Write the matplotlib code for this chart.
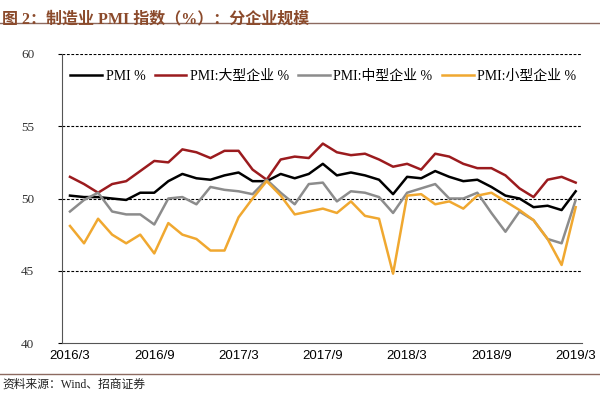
import numpy as np
import matplotlib
matplotlib.use("Agg")
import matplotlib.pyplot as plt
from matplotlib.lines import Line2D

plt.rcParams['font.family'] = ['Liberation Serif', 'Noto Sans CJK SC']

# monthly, 2016/3 .. 2019/3
months = [f"{2016 + (m + 2) // 12}/{(m + 2) % 12 + 1}" for m in range(37)]
tick_labels = ["2016/3", "2016/9", "2017/3", "2017/9", "2018/3", "2018/9", "2019/3"]

pmi_all = [50.2, 50.1, 50.1, 50.0, 49.9, 50.4, 50.4, 51.2, 51.7, 51.4,
           51.3, 51.6, 51.8, 51.2, 51.2, 51.7, 51.4, 51.7, 52.4, 51.6, 51.8, 51.6,
           51.3, 50.3, 51.5, 51.4, 51.9, 51.5, 51.2, 51.3, 50.8, 50.2, 50.0, 49.4,
           49.5, 49.2, 50.5]
pmi_large = [51.5, 51.0, 50.4, 51.0, 51.2, 51.9, 52.6, 52.5, 53.4, 53.2,
             52.8, 53.3, 53.3, 52.0, 51.3, 52.7, 52.9, 52.8, 53.8, 53.2, 53.0, 53.1,
             52.7, 52.2, 52.4, 52.0, 53.1, 52.9, 52.4, 52.1, 52.1, 51.6, 50.7, 50.1,
             51.3, 51.5, 51.1]
pmi_medium = [49.1, 49.9, 50.4, 49.1, 48.9, 48.9, 48.2, 50.0, 50.1, 49.6,
              50.8, 50.6, 50.5, 50.3, 51.3, 50.4, 49.6, 51.0, 51.1, 49.8, 50.5, 50.4,
              50.1, 49.0, 50.4, 50.7, 51.0, 50.0, 50.0, 50.4, 49.0, 47.7, 49.1, 48.5,
              47.2, 46.9, 49.9]
pmi_small = [48.1, 46.9, 48.6, 47.5, 46.9, 47.5, 46.2, 48.3, 47.5, 47.2,
             46.4, 46.4, 48.7, 50.0, 51.2, 50.2, 48.9, 49.1, 49.3, 49.0, 49.8, 48.8,
             48.6, 44.8, 50.2, 50.3, 49.6, 49.8, 49.3, 50.2, 50.4, 49.8, 49.2, 48.5,
             47.2, 45.4, 49.4]

series = [
    ("PMI %", pmi_all, "#000000"),
    ("PMI:大型企业 %", pmi_large, "#9b1b1e"),
    ("PMI:中型企业 %", pmi_medium, "#8c8c8c"),
    ("PMI:小型企业 %", pmi_small, "#f0a830"),
]

fig = plt.figure(figsize=(6.0, 3.95), dpi=100)
ax = fig.add_axes([0.1033, 0.1316, 0.8667, 0.7317])

x = np.arange(len(months))
for name, vals, col in series:
    ax.plot(x, vals, color=col, lw=1.8, label=name)

ax.set_ylim(40, 60)
ax.set_xlim(-0.57, 36.45)
ax.set_yticks([40, 45, 50, 55, 60])
for yv in [45, 50, 55, 60]:
    ax.axhline(yv, color="black", lw=0.8, ls=(0, (2.5, 1.5)), zorder=0)

ax.set_xticks(x[::6])
ax.set_xticklabels(tick_labels, family="Liberation Sans", fontsize=9.5)
ax.tick_params(axis="x", length=0, pad=5)
ax.tick_params(axis="y", length=3, labelsize=9.5, direction="out", pad=17)
for lab in ax.get_yticklabels():
    lab.set_color("#333333")

for s in ["top", "right"]:
    ax.spines[s].set_visible(False)
ax.spines["left"].set_color("#555555")
ax.spines["bottom"].set_color("#555555")

ax.legend(loc="upper left", bbox_to_anchor=(0.0, 0.975), ncol=4, frameon=False,
          fontsize=10, handlelength=2.3, columnspacing=0.65, handletextpad=0.25,
          borderaxespad=0.2)

fig.text(0.004, 0.972, "图 2：制造业 PMI 指数（%）：分企业规模", fontsize=11.5,
         fontweight="bold", color="#8b4a2b", va="top", ha="left")
fig.add_artist(Line2D([0, 1], [0.942, 0.942], color="#8c6a60", lw=1.0))
fig.add_artist(Line2D([0, 1], [0.052, 0.052], color="#8c6a60", lw=1.0))
fig.text(0.004, 0.025, "资料来源：Wind、招商证券", fontsize=8.5, color="#222222",
         va="center", ha="left")

fig.savefig("out.png", dpi=100)
